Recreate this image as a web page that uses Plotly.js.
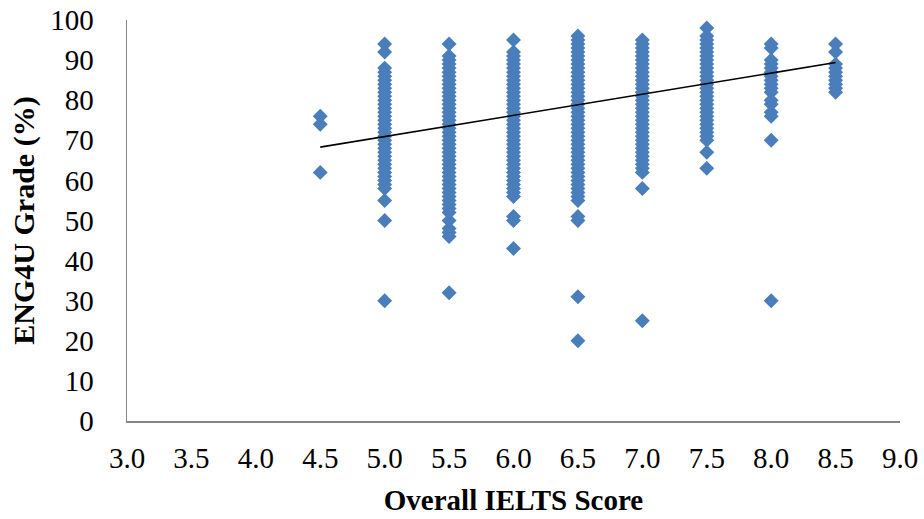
<!DOCTYPE html>
<html>
<head>
<meta charset="utf-8">
<script src="https://cdn.plot.ly/plotly-3.0.1.min.js"></script>
<style>html,body{margin:0;padding:0;background:#fff}#chart{width:924px;height:519px}</style>
</head>
<body>
<div id="chart"></div>
<script>
// IELTS score levels (x) and ENG4U grades (%) observed at each level
const scoreLevels = [4.5, 5.0, 5.5, 6.0, 6.5, 7.0, 7.5, 8.0, 8.5];
const grades45 = [76, 74, 62];
const grades50 = [94, 92, 88, 87, 86, 85, 84, 83, 82, 81, 80, 79, 78, 77, 76, 75, 74, 73, 72, 71, 70, 69, 68, 67, 66, 65, 64, 63, 62, 61, 60, 59, 58, 55, 50, 30];
const grades55 = [94, 91, 90, 89, 88, 87, 86, 85, 84, 83, 82, 81, 80, 79, 78, 77, 76, 75, 74, 73, 72, 71, 70, 69, 68, 67, 66, 65, 64, 63, 62, 61, 60, 59, 58, 57, 56, 55, 54, 53, 52, 50, 48, 47, 46, 32];
const grades60 = [95, 92, 91, 90, 89, 88, 87, 86, 85, 84, 83, 82, 81, 80, 79, 78, 77, 76, 75, 74, 73, 72, 71, 70, 69, 68, 67, 66, 65, 64, 63, 62, 61, 60, 59, 58, 57, 56, 51, 50, 43];
const grades65 = [96, 95, 94, 93, 92, 91, 90, 89, 88, 87, 86, 85, 84, 83, 82, 81, 80, 79, 78, 77, 76, 75, 74, 73, 72, 71, 70, 69, 68, 67, 66, 65, 64, 63, 62, 61, 60, 59, 58, 57, 56, 55, 51, 50, 31, 20];
const grades70 = [95, 94, 93, 92, 91, 90, 89, 88, 87, 86, 85, 84, 83, 82, 81, 80, 79, 78, 77, 76, 75, 74, 73, 72, 71, 70, 69, 68, 67, 66, 65, 64, 63, 62, 58, 25];
const grades75 = [98, 96, 95, 94, 93, 92, 91, 90, 89, 88, 87, 86, 85, 84, 83, 82, 81, 80, 79, 78, 77, 76, 75, 74, 73, 72, 71, 70, 67, 63];
const grades80 = [94, 93, 90, 89, 88, 87, 86, 85, 84, 83, 82, 80, 79, 77, 76, 70, 30];
const grades85 = [94, 92, 89, 88, 87, 86, 85, 84, 83, 82];
// Linear trend line end points
const trendX = [4.5, 8.5];
const trendY = [68.3, 89.4];
const xTickVals = [3.0, 3.5, 4.0, 4.5, 5.0, 5.5, 6.0, 6.5, 7.0, 7.5, 8.0, 8.5, 9.0];
const xTickText = ["3.0", "3.5", "4.0", "4.5", "5.0", "5.5", "6.0", "6.5", "7.0", "7.5", "8.0", "8.5", "9.0"];
const yTickVals = [0, 10, 20, 30, 40, 50, 60, 70, 80, 90, 100];

const groups = [grades45, grades50, grades55, grades60, grades65, grades70, grades75, grades80, grades85];
const xs = [], ys = [];
groups.forEach((g, i) => g.forEach(v => { xs.push(scoreLevels[i]); ys.push(v); }));

const font = "Liberation Serif, Times New Roman, serif";
const data = [
  {x: xs, y: ys, type: 'scatter', mode: 'markers',
   marker: {symbol: 'diamond', size: 11.5, color: '#4A7EBB'}, showlegend: false},
  {x: trendX, y: trendY, type: 'scatter', mode: 'lines',
   line: {color: '#000000', width: 1.6}, showlegend: false}
];
const layout = {
  width: 924, height: 519,
  margin: {l: 127, r: 24, t: 20, b: 98},
  paper_bgcolor: '#fff', plot_bgcolor: '#fff',
  font: {family: font, size: 29, color: '#000'},
  xaxis: {range: [3.0, 9.0], tickvals: xTickVals, ticktext: xTickText,
    showgrid: false, zeroline: false, showline: true, linecolor: '#868686', linewidth: 1.5,
    ticks: '', ticklabelstandoff: 11, automargin: false,
    title: {text: '<b>Overall IELTS Score</b>', font: {family: font, size: 29}, standoff: 16}},
  yaxis: {range: [0, 100], tickvals: yTickVals,
    showgrid: false, zeroline: false, showline: true, linecolor: '#868686', linewidth: 1.5,
    ticks: '', ticklabelstandoff: 26, automargin: false,
    title: {text: '<b>ENG4U Grade (%)</b>', font: {family: font, size: 30}, standoff: 6}}
};
Plotly.newPlot('chart', data, layout, {displayModeBar: false, staticPlot: true});
</script>
</body>
</html>
